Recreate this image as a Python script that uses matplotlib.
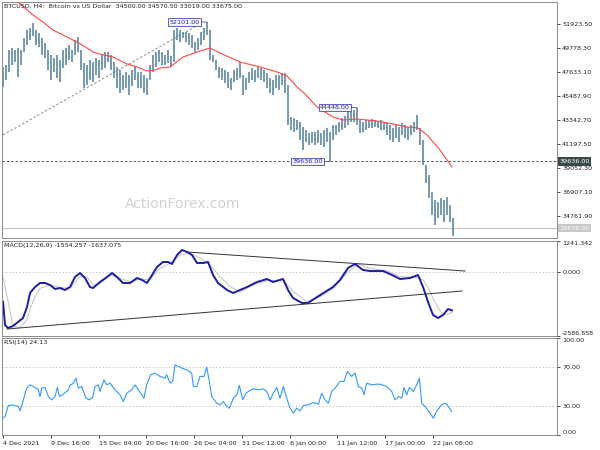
import matplotlib
matplotlib.use("Agg")
import matplotlib.pyplot as plt
import matplotlib.transforms as mtransforms
import numpy as np

plt.rcParams["font.family"] = "DejaVu Sans"

# ---------------------------------------------------------------------------
# Data (one sample ~ every 2 H4 bars)
# ---------------------------------------------------------------------------
TITLE_MAIN = "BTCUSD, H4:  Bitcoin vs US Dollar  34500.00 34570.50 33019.00 33675.00"
TITLE_MACD = "MACD(12,26,9) -1554.257 -1637.075"
TITLE_RSI = "RSI(14) 24.13"

BAR_HIGH = [
    48080, 48259, 49600, 49779, 49600, 49779, 49600, 50673, 51388, 51566,
    52013, 51388, 51119, 50673, 50226, 49600, 49153, 48885, 49153, 48706,
    49600, 49779, 50048, 49600, 50494, 50762, 49600, 48438, 48259, 48706,
    48527, 48885, 48706, 49153, 49421, 49421, 49153, 48527, 48080, 47813,
    47366, 47634, 47366, 47813, 48080, 47634, 47634, 47366, 47097, 48259,
    49153, 49421, 49600, 49421, 49153, 49600, 49064, 51388, 51566, 51388,
    51209, 51209, 51119, 50941, 50315, 50673, 51209, 51566, 52101, 51388,
    49153, 48706, 48080, 47991, 47813, 47634, 47097, 47813, 47991, 48527,
    47366, 47097, 47634, 47991, 47813, 48080, 47991, 47813, 47544, 47097,
    46919, 47366, 47366, 47544, 47544, 46472, 43611, 43522, 43343, 43165,
    42718, 42450, 42182, 42271, 42271, 42450, 42182, 42450, 42628, 42271,
    42897, 42897, 43165, 43522, 43701, 44237, 44058, 44237, 44448, 43343,
    43165, 43343, 43343, 43433, 43343, 43254, 43343, 43165, 43075, 42897,
    42628, 42897, 42718, 43075, 42897, 42718, 42897, 43165, 43790, 42628,
    41556, 39321, 38427, 36908, 36193, 36014, 36372, 36193, 36461, 35746, 34570,
]
BAR_LOW = [
    46293, 46919, 47634, 48259, 48527, 47187, 48259, 49421, 50048, 50494,
    50851, 50048, 49869, 49153, 48885, 47813, 46919, 47634, 47097, 46740,
    47991, 48259, 48706, 48527, 49153, 49421, 47813, 46204, 46472, 46919,
    46740, 47366, 47097, 47813, 47991, 48527, 47813, 47097, 46204, 45757,
    46025, 46204, 45578, 46382, 46919, 46204, 46204, 45757, 45578, 46919,
    47634, 48080, 48527, 48259, 48259, 48438, 48080, 48527, 50494, 50315,
    50673, 50315, 50048, 49779, 49421, 49600, 50048, 50494, 50941, 48706,
    48527, 47813, 47097, 46919, 46651, 46204, 46025, 46740, 46919, 47097,
    45578, 46025, 46651, 46919, 46740, 47097, 46919, 46740, 46204, 45757,
    45578, 46204, 46025, 46472, 45757, 42897, 42450, 42271, 42450, 41556,
    40662, 41377, 41109, 41288, 41109, 41288, 41109, 40930, 41377, 39636,
    41556, 42003, 42271, 42450, 42628, 42897, 43165, 43165, 42897, 42182,
    42271, 42450, 42628, 42628, 42718, 42628, 42450, 42450, 42003, 41556,
    41377, 41735, 41377, 42003, 41735, 41556, 42003, 42271, 42450, 41109,
    39321, 37712, 36372, 34852, 33959, 34585, 34852, 34227, 34852, 34227, 33019,
]

# moving average (red), positions in sample units
MA_IDX = [3.5, 5, 10, 13.33, 16.67, 21.33, 24.67, 28, 30, 32.33, 36.67, 41.33,
          44.67, 48, 50.67, 52.33, 55.67, 60, 64.67, 69, 72.33, 79, 85.67,
          91.33, 94.67, 98, 100.67, 104.67, 110, 113.33, 118, 124.67, 130,
          134.67, 138.33, 141.33, 145.67, 149.67]
MA_VAL = [54300, 53890, 52728, 52103, 51388, 50762, 50315, 49779, 49421, 49242,
          48974, 48349, 48080, 47723, 47812, 47991, 48080, 48974, 49421, 49779,
          49332, 48527, 48080, 47634, 47276, 46293, 45667, 44505, 43611, 43343,
          43433, 43254, 42986, 42718, 42628, 42003, 40662, 39142]

# trend line drawn on price (bar units / price)
TREND_X = [0, 136]
TREND_Y = [42003, 51923]

HIGH_LABELS = [("52101.00", 68, 52101), ("44448.00", 118, 44448), ("39636.00", 109, 39636)]
SUPPORT = 39636.00
LAST_PRICE = 33676.00
PRICE_TICKS = [51923.50, 49778.30, 47633.10, 45487.90, 43342.70,
               41197.50, 39052.30, 36907.10, 34761.90]

MACD_IDX = [0, 0.67, 1.67, 3.33, 5, 6.67, 8, 9, 10.67, 12.33,
            14, 15.67, 17.33, 19, 20.67, 22.33, 24, 25.67, 27.33, 29,
            30, 32.33, 34.67, 36.33, 38, 40, 42.33, 44.67, 46.33, 48,
            49.67, 51.33, 53.33, 55, 56.33, 58, 59.67, 61.33, 63, 64.67,
            66.67, 68.33, 70, 71.67, 74.67, 76.67, 79, 81.33, 84.67, 88,
            90, 93.33, 95, 96.67, 99.67, 101.67, 104.67, 107.33, 110, 112.33,
            115, 117.33, 120, 122.33, 126.67, 129.67, 132.33, 135.67, 138.33, 140,
            141.67, 143.33, 145, 146.67, 148.33, 149.67]
MACD_VAL = [-1205, -2144, -2265, -2184, -2023, -1862, -1418, -854, -613, -451,
            -451, -532, -693, -653, -733, -613, -210, -48, -250, -613,
            -653, -411, -210, -48, -210, -451, -451, -250, -330, -451,
            -129, 194, 395, 395, 315, 677, 879, 798, 677, 355,
            355, 395, -129, -451, -733, -854, -733, -613, -411, -290,
            -411, -290, -733, -1056, -1257, -1257, -1016, -814, -613, -330,
            153, 315, 73, 32, 32, -129, -290, -250, -129, -613,
            -1217, -1741, -1862, -1741, -1500, -1554]
SIG_IDX = [0, 3.4, 5.7, 7.9, 10.1, 12.3, 15.7, 19, 22.3, 25.7,
           27.9, 30.1, 32.3, 35.7, 39, 42.3, 45.7, 49, 52.3, 55.7,
           59, 62.3, 65.7, 69, 72.3, 75.7, 79, 83.4, 87.9, 93.4,
           96.8, 101.2, 105.7, 110.1, 114.6, 118.4, 122.3, 127.9, 132.3, 137.9,
           140, 141.7, 143.3, 145, 146.7, 148.3, 149.7]
SIG_VAL = [-197, -2213, -2237, -1942, -1136, -666, -532, -626, -666, -197,
           -197, -532, -465, -129, -263, -398, -304, -304, 141, 342,
           677, 745, 544, 274, -197, -600, -801, -532, -358, -330,
           -801, -1205, -1003, -666, -61, 315, 141, 44, -197, -223,
           -330, -653, -1056, -1450, -1741, -1700, -1637]
MACD_TOP, MACD_BOTTOM = 1241.342, -2586.858
# MACD trend lines (bar units / value)
MACD_UP_X, MACD_UP_Y = [127.1, 319.1], [798, 32]
MACD_LO_X, MACD_LO_Y = [2.8, 317.0], [-2305, -774]

RSI_IDX = [-0.44, 0.67, 1.78, 3.44, 5.11, 5.67, 6.78, 7.89, 9, 10.67,
           11.78, 12.33, 12.89, 14, 15.11, 16.22, 17.33, 18.11, 18.78, 20.11,
           21.78, 22.33, 23.44, 24.33, 25.11, 26.22, 27.67, 28.78, 29.89, 30.67,
           31.78, 32.33, 33.67, 34.56, 35.67, 37.33, 39, 40.11, 41.22, 42.89,
           44, 45.11, 46.22, 47, 47.89, 49.22, 50.67, 52.33, 54, 54.56,
           55.67, 56.56, 57.33, 59.56, 61.22, 62.89, 63.44, 64.56, 65.67, 67,
           67.89, 68.78, 69.56, 71.22, 72.33, 73.44, 74.33, 75.44, 76.78, 77.89,
           78.78, 79.89, 81, 82.11, 83.44, 85.11, 86.78, 87.89, 89, 90.11,
           91.22, 92.33, 93.44, 94.56, 95.67, 96.78, 97.89, 99, 100.11, 101.78,
           103.44, 105.11, 106.22, 107.33, 108.44, 109.56, 110.67, 112.33, 113.67, 114.78,
           116.22, 117.33, 118.44, 119.56, 120.33, 121.22, 122.89, 124.56, 125.67, 127.89,
           129.56, 130.67, 131.78, 132.89, 133.67, 134.56, 135.44, 136.78, 137.89, 138.78,
           139.56, 140.67, 141.78, 143.44, 144.56, 146.22, 147.33, 148.11, 149.56]
RSI_VAL = [16.6, 19, 30.4, 31, 29.3, 24.9, 36.2, 48.3, 51.7, 49,
           46.6, 39.7, 48.3, 49, 39.7, 36.2, 39.7, 49, 39.7, 42.1,
           46.6, 51, 53.5, 58.6, 48.3, 50, 38, 36.2, 38.7, 50,
           51.7, 44.9, 56.9, 51.7, 53.5, 46.6, 41.4, 34.5, 43.1, 46.6,
           51.7, 46.6, 41.4, 38, 51.7, 62.1, 63.8, 60.4, 58.6, 62.1,
           53.5, 55.2, 72.4, 69, 67.2, 63.8, 50, 50, 60.4, 60.4,
           70, 55.2, 39.7, 32.8, 31.1, 34.5, 30.4, 27.6, 38, 41.4,
           51, 36.2, 43.1, 45.5, 47.6, 46.6, 47.6, 44.9, 36.2, 43.1,
           49, 38, 50, 38, 27.6, 22.5, 27.6, 24.9, 30.4, 31.1,
           33.5, 31.8, 43.1, 36.2, 32.8, 44.9, 48.3, 55.2, 55.2, 65.5,
           60.4, 63.8, 50, 48.3, 41.4, 53.5, 51.7, 52.4, 52.4, 50,
           44.9, 36.2, 39.7, 38, 49, 41.4, 49, 44.9, 51.7, 58.6,
           32.8, 29.3, 24.9, 17.3, 24.9, 31.1, 32.8, 31.1, 24.13]
RSI_TICKS = [100, 70, 30, 0]

DATE_LABELS = ["4 Dec 2021", "9 Dec 16:00", "15 Dec 04:00", "20 Dec 16:00",
               "26 Dec 04:00", "31 Dec 12:00", "6 Jan 00:00", "11 Jan 12:00",
               "17 Jan 00:00", "22 Jan 08:00"]
DATE_BARS = [0, 33, 66, 99, 132, 165, 198, 231, 264, 297]

# ---------------------------------------------------------------------------
# Style
# ---------------------------------------------------------------------------
SAMPLE_STEP = 2.072     # H4 bars per sample
FS = 4.6
SPINE = "#8c8c8c"
BAR_COLOR = "#4f7f9f"
LBL_EDGE = "#4a4ab8"
LBL_TEXT = "#2a2a9a"

W, H = 600, 450
fig = plt.figure(figsize=(6, 4.5), dpi=100)


def px_axes(left, top, right, bottom):
    return fig.add_axes([left / W, 1 - bottom / H, (right - left) / W, (bottom - top) / H])


ax_p = px_axes(2, 2, 557, 238)
ax_m = px_axes(2, 241, 557, 336)
ax_r = px_axes(2, 338, 557, 435)

for ax in (ax_p, ax_m, ax_r):
    ax.set_xlim(-0.7, 382.6)
    for sp in ax.spines.values():
        sp.set_color(SPINE)
        sp.set_linewidth(0.7)
    ax.yaxis.tick_right()
    ax.tick_params(axis="y", direction="out", length=2.5, width=0.6, pad=1.2,
                   labelsize=FS, colors="#222222")
    ax.tick_params(axis="x", bottom=False, labelbottom=False)

# ---------------------------------------------------------------------------
# Price panel
# ---------------------------------------------------------------------------
xs = np.arange(len(BAR_HIGH)) * SAMPLE_STEP
ax_p.set_ylim(32797, 53890)
ax_p.axhline(LAST_PRICE, color="#c8c8c8", lw=0.8, zorder=1)
ax_p.axhline(SUPPORT, color="#5a5a5a", lw=0.7, ls=(0, (2.5, 2)), zorder=1)
ax_p.plot(TREND_X, TREND_Y, color="#7d8c99", lw=0.7, ls=(0, (2.5, 2)), zorder=1)
ax_p.vlines(xs, BAR_LOW, BAR_HIGH, color=BAR_COLOR, linewidth=1.1, zorder=2)
ax_p.plot(np.array(MA_IDX) * SAMPLE_STEP, MA_VAL, color="#ff4646", lw=0.8, zorder=3)

ax_p.set_yticks(PRICE_TICKS)
ax_p.set_yticklabels([f"{v:.2f}" for v in PRICE_TICKS])

for text, idx, price in HIGH_LABELS:
    ax_p.annotate(text, xy=(idx * SAMPLE_STEP, price), xytext=(-7, 0),
                  textcoords="offset pixels", ha="right", va="center",
                  fontsize=FS, color=LBL_TEXT, zorder=5,
                  bbox=dict(boxstyle="square,pad=0.2", fc="#f4f4ff", ec=LBL_EDGE, lw=0.6),
                  arrowprops=dict(arrowstyle="-", color=LBL_EDGE, lw=0.6,
                                  shrinkA=0, shrinkB=0))

trans_p = mtransforms.blended_transform_factory(ax_p.transAxes, ax_p.transData)
ax_p.text(1.004, SUPPORT, f"{SUPPORT:.2f}", transform=trans_p, ha="left", va="center",
          fontsize=FS, color="white", clip_on=False, zorder=6,
          bbox=dict(boxstyle="square,pad=0.25", fc="#3b4848", ec="none"))
ax_p.text(1.004, LAST_PRICE, f"{LAST_PRICE:.2f}", transform=trans_p, ha="left", va="center",
          fontsize=FS, color="white", clip_on=False, zorder=6,
          bbox=dict(boxstyle="square,pad=0.25", fc="#c8c8c8", ec="none"))

ax_p.text(0.004, 0.993, TITLE_MAIN, transform=ax_p.transAxes, ha="left", va="top",
          fontsize=FS, color="#222222")
ax_p.text(0.326, 0.144, "ActionForex.com", transform=ax_p.transAxes, ha="center",
          va="center", fontsize=10, color="#d2d2d2", zorder=0)

# ---------------------------------------------------------------------------
# MACD panel
# ---------------------------------------------------------------------------
ax_m.set_ylim(MACD_BOTTOM, MACD_TOP)
ax_m.axhline(0, color="#c8c8c8", lw=0.6, ls=(0, (2, 2)))
ax_m.plot(np.array(SIG_IDX) * SAMPLE_STEP, SIG_VAL, color="#c8c8c8", lw=0.8)
ax_m.plot(np.array(MACD_IDX) * SAMPLE_STEP, MACD_VAL, color="#1c1ca6", lw=1.4)
ax_m.plot(MACD_UP_X, MACD_UP_Y, color="#333333", lw=0.7)
ax_m.plot(MACD_LO_X, MACD_LO_Y, color="#333333", lw=0.7)
ax_m.set_yticks([MACD_TOP, 0, MACD_BOTTOM])
ax_m.set_yticklabels([f"{MACD_TOP:.3f}", "0.000", f"{MACD_BOTTOM:.3f}"])
lbls = ax_m.get_yticklabels()
lbls[0].set_verticalalignment("top")
lbls[2].set_verticalalignment("bottom")
ax_m.text(0.004, 0.975, TITLE_MACD, transform=ax_m.transAxes, ha="left", va="top",
          fontsize=FS, color="#222222")

# ---------------------------------------------------------------------------
# RSI panel
# ---------------------------------------------------------------------------
ax_r.set_ylim(0, 100)
for lvl in (70, 30):
    ax_r.axhline(lvl, color="#c8c8c8", lw=0.6, ls=(0, (2, 2)))
ax_r.plot(np.array(RSI_IDX) * SAMPLE_STEP, RSI_VAL, color="#3399ff", lw=0.8)
ax_r.set_yticks(RSI_TICKS)
ax_r.set_yticklabels([f"{v:.2f}" for v in RSI_TICKS])
lbls = ax_r.get_yticklabels()
lbls[0].set_verticalalignment("top")
lbls[3].set_verticalalignment("bottom")
ax_r.text(0.004, 0.975, TITLE_RSI, transform=ax_r.transAxes, ha="left", va="top",
          fontsize=FS, color="#222222")

ax_r.set_xticks(DATE_BARS)
ax_r.set_xticklabels(DATE_LABELS, ha="left")
ax_r.tick_params(axis="x", bottom=True, labelbottom=True, direction="out", length=2.5,
                 width=0.6, pad=1.5, labelsize=FS, colors="#222222")

fig.savefig("out.png", dpi=100)
